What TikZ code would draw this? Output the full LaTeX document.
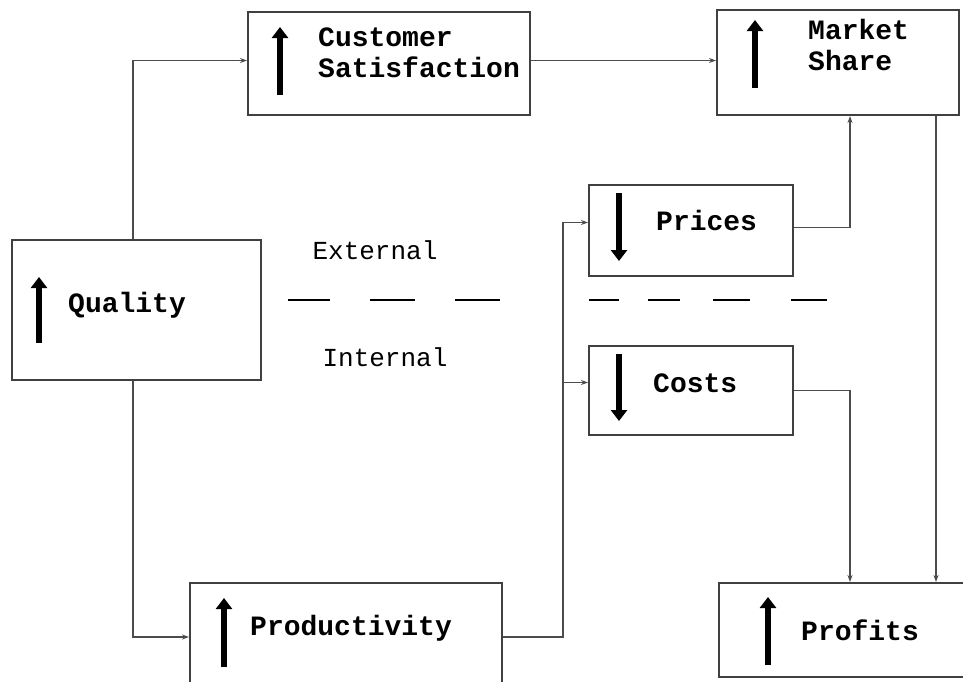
\documentclass[tikz,border=0pt]{standalone}
\usepackage{fontspec}
\setmainfont{Liberation Mono}
\usetikzlibrary{arrows.meta,calc}

\begin{document}
\begin{tikzpicture}[
  x=1pt, y=-1pt,
  line cap=butt,
  line join=miter,
  box/.style={draw=black!75, line width=2pt, inner sep=0pt},
  label/.style={font=\fontsize{28}{31}\selectfont\bfseries, align=left, anchor=west, inner sep=0pt},
  zone/.style={font=\fontsize{26}{30}\selectfont, inner sep=0pt},
  link/.style={draw=black!70, line width=1.3pt, -{Stealth[length=7pt,width=5pt]}},
  bigup/.style={line width=6pt, -{Triangle[length=11pt,width=16pt]}},
  divider/.style={line width=2.6pt}
]
  \useasboundingbox (0,0) rectangle (963,681);
  \clip (0,0) rectangle (963,681);

  % Boxes
  \node[box, minimum width=282pt, minimum height=103pt] (sat)   at (389,63.5)  {};
  \node[box, minimum width=242pt, minimum height=105pt] (share) at (838,62.5)  {};
  \node[box, minimum width=249pt, minimum height=140pt] (qual)  at (136.5,310) {};
  \node[box, minimum width=204pt, minimum height=91pt]  (price) at (691,230.5) {};
  \node[box, minimum width=204pt, minimum height=89pt]  (cost)  at (691,390.5) {};
  \node[box, minimum width=312pt, minimum height=108pt] (prod)  at (346,637)   {};
  \node[box, minimum width=262pt, minimum height=94pt]  (prof)  at (850,630)   {};

  % Texts
  \node[label] (satT)   at (318,53)  {Customer\\Satisfaction};
  \node[label] (shareT) at (808,45)  {Market\\Share};
  \node[label] (qualT)  at (68,305)  {Quality};
  \node[label] (priceT) at (656,220) {Prices};
  \node[label] (costT)  at (653,383) {Costs};
  \node[label] (prodT)  at (250,628) {Productivity};
  \node[label] (profT)  at (801,630) {Profits};
  \node[zone] (ext) at (375,250) {External};
  \node[zone] (int) at (385,357) {Internal};

  % Up and down markers
  \draw[bigup] (280,95)  -- (280,27);
  \draw[bigup] (755,88)  -- (755,20);
  \draw[bigup] (39,343)  -- (39,277);
  \draw[bigup] (619,193) -- (619,261);
  \draw[bigup] (619,354) -- (619,421);
  \draw[bigup] (224,667) -- (224,598);
  \draw[bigup] (768,665) -- (768,597);

  % External / internal divide
  \foreach \a/\b in {288/330, 370/415, 455/500, 589/619, 648/680, 713/750, 791/827}
    \draw[divider] (\a,300) -- (\b,300);

  % Links
  \coordinate (qx) at (133,0);
  \coordinate (mx) at (850,0);
  \coordinate (bend) at ($(prod.east)+(60,0)$);
  \draw[link] (qual.north -| qx) |- ([yshift=3pt]sat.west);
  \draw[link] (qual.south -| qx) |- (prod.west);
  \draw[link] ([yshift=3pt]sat.east) -- ([yshift=3pt]sat.east -| share.west);
  \draw[link] ([yshift=3pt]price.east) -| (mx |- share.south);
  \draw[link] ([xshift=-24pt]share.south east) -- ([xshift=-24pt]share.south east |- prof.north);
  \draw[link] (cost.east) -| (mx |- prof.north);
  \draw[link] (prod.east) -- (bend) |- ([yshift=8pt]price.west);
  \draw[link] (bend) |- ([yshift=8pt]cost.west);
\end{tikzpicture}
\end{document}
